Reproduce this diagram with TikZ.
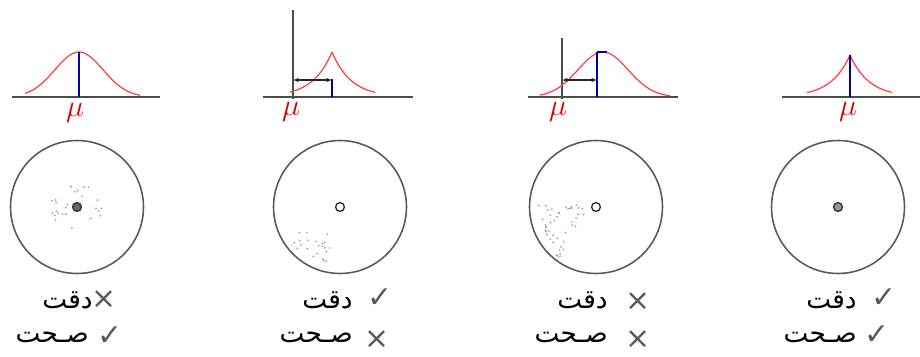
\documentclass[tikz,border=0pt]{standalone}
\usepackage{fontspec}
\newfontfamily\arabicfont[Script=Arabic]{DejaVu Sans}
\newfontfamily\symbolfont{DejaVu Sans}
\TeXXeTstate=1
\usetikzlibrary{arrows.meta,positioning}

\begin{document}
\begin{tikzpicture}[x=0.02cm, y=-0.02cm,
	axisline/.style={draw=black!70, line width=0.8pt},
	curveline/.style={draw=red!75!white, line width=0.7pt},
	meanline/.style={draw=blue!65!black, line width=0.8pt},
	spanline/.style={draw=black!85, line width=0.7pt, {Latex[length=3pt,width=2.5pt]}-{Latex[length=3pt,width=2.5pt]}},
	target/.style={circle, draw=black!65, line width=0.9pt, minimum size=2.66cm, inner sep=0pt},
	bullseye/.style={circle, draw=black!80, line width=0.8pt, minimum size=5pt, inner sep=0pt},
	hitdot/.style={fill=black!40},
	mulabel/.style={text=red!85!black, font=\LARGE, inner sep=0pt},
	wordlabel/.style={font=\arabicfont\fontsize{15}{15}\selectfont, inner sep=0pt, anchor=east},
	marklabel/.style={font=\symbolfont\fontsize{17}{17}\selectfont, text=black!65, inner sep=0pt}]
	\useasboundingbox (0,0) rectangle (920,356);
	% Curves and axes:
	\draw[axisline] (12,97) -- (160,97);
	\draw[curveline] plot[domain=25:140, samples=80, smooth] (\x, {97-45*exp(-((\x-79)/24)^2/2)});
	\draw[meanline] (79,52) -- (79,97);
	\draw[axisline] (263,97) -- (413,97);
	\draw[axisline] (293,10) -- (293,99);
	\draw[curveline] plot[domain=290:375, samples=121] (\x, {97-45*exp(-abs(\x-332)/19)});
	\draw[meanline] (332,79) -- (332,97);
	\draw[spanline] (293,80) -- (332,80);
	\draw[axisline] (528,97) -- (678,97);
	\draw[axisline] (562,38) -- (562,99);
	\draw[curveline] plot[domain=540:670, samples=80, smooth] (\x, {97-45*exp(-((\x-603)/25)^2/2)});
	\draw[meanline] (597,52) -- (597,97) (597,52) -- (607,52);
	\draw[spanline] (562,80) -- (597,80);
	\draw[axisline] (782,97) -- (920,97);
	\draw[curveline] plot[domain=807:892, samples=121] (\x, {97-42*exp(-abs(\x-850)/19)});
	\draw[meanline] (850,55) -- (850,97);
	\node[mulabel] (MU1) at (75,113) {$\mu$};
	\node[mulabel] (MU2) at (291,112) {$\mu$};
	\node[mulabel] (MU3) at (558,112) {$\mu$};
	\node[mulabel] (MU4) at (848,112) {$\mu$};
	% Targets:
	\node[target] (T1) at (77,207) {};
	\node[target] (T2) at (340,207) {};
	\node[target] (T3) at (596,207) {};
	\node[target] (T4) at (838,207) {};
	\node[bullseye, fill=black!60] (B1) at (77,207) {};
	\node[bullseye] (B2) at (340,207) {};
	\node[bullseye] (B3) at (596,207) {};
	\node[bullseye, fill=black!40] (B4) at (838,207) {};
	% Hits:
	\pgfmathsetseed{23}
	\foreach \i in {1,...,26}{
		\pgfmathsetmacro\ang{360*rnd}
		\pgfmathsetmacro\rad{8+18*sqrt(rnd)}
		\fill[hitdot] ({77+\rad*cos(\ang)}, {207+0.9*\rad*sin(\ang)}) circle (0.55pt);
	}
	\begin{scope}
		\clip (340,207) circle[radius=1.22cm];
		\foreach \i in {1,...,28}{
			\pgfmathsetmacro\hx{290+40*rnd}
			\pgfmathsetmacro\hy{232+33*rnd}
			\fill[hitdot] (\hx,\hy) circle (0.55pt);
		}
	\end{scope}
	\foreach \i in {1,...,45}{
		\pgfmathsetmacro\u{rnd}
		\pgfmathsetmacro\v{rnd}
		\pgfmathsetmacro\uu{ifthenelse(\u+\v>1,1-\u,\u)}
		\pgfmathsetmacro\vv{ifthenelse(\u+\v>1,1-\v,\v)}
		\fill[hitdot] ({535+55*\uu+22*\vv}, {205+57*\vv}) circle (0.55pt);
	}
	% Labels:
	\node[marklabel] (X1) at (104,300) {×};
	\node[wordlabel] (P1) at (93,300) {\arabicfont\beginR دقت\endR};
	\node[marklabel] (C1) at (110,336) {✓};
	\node[wordlabel] (A1) at (89,337) {\arabicfont\beginR صـحت\endR};
	\node[marklabel] (C2) at (380,298) {✓};
	\node[wordlabel] (P2) at (353,300) {\arabicfont\beginR دقت\endR};
	\node[marklabel] (X2) at (377,340) {×};
	\node[wordlabel] (A2) at (353,337) {\arabicfont\beginR صـحت\endR};
	\node[marklabel] (X3) at (638,302) {×};
	\node[wordlabel] (P3) at (608,300) {\arabicfont\beginR دقت\endR};
	\node[marklabel] (X4) at (638,340) {×};
	\node[wordlabel] (A3) at (608,337) {\arabicfont\beginR صـحت\endR};
	\node[marklabel] (C3) at (884,298) {✓};
	\node[wordlabel] (P4) at (857,300) {\arabicfont\beginR دقت\endR};
	\node[marklabel] (C4) at (877,335) {✓};
	\node[wordlabel] (A4) at (857,337) {\arabicfont\beginR صـحت\endR};
\end{tikzpicture}
\end{document}
